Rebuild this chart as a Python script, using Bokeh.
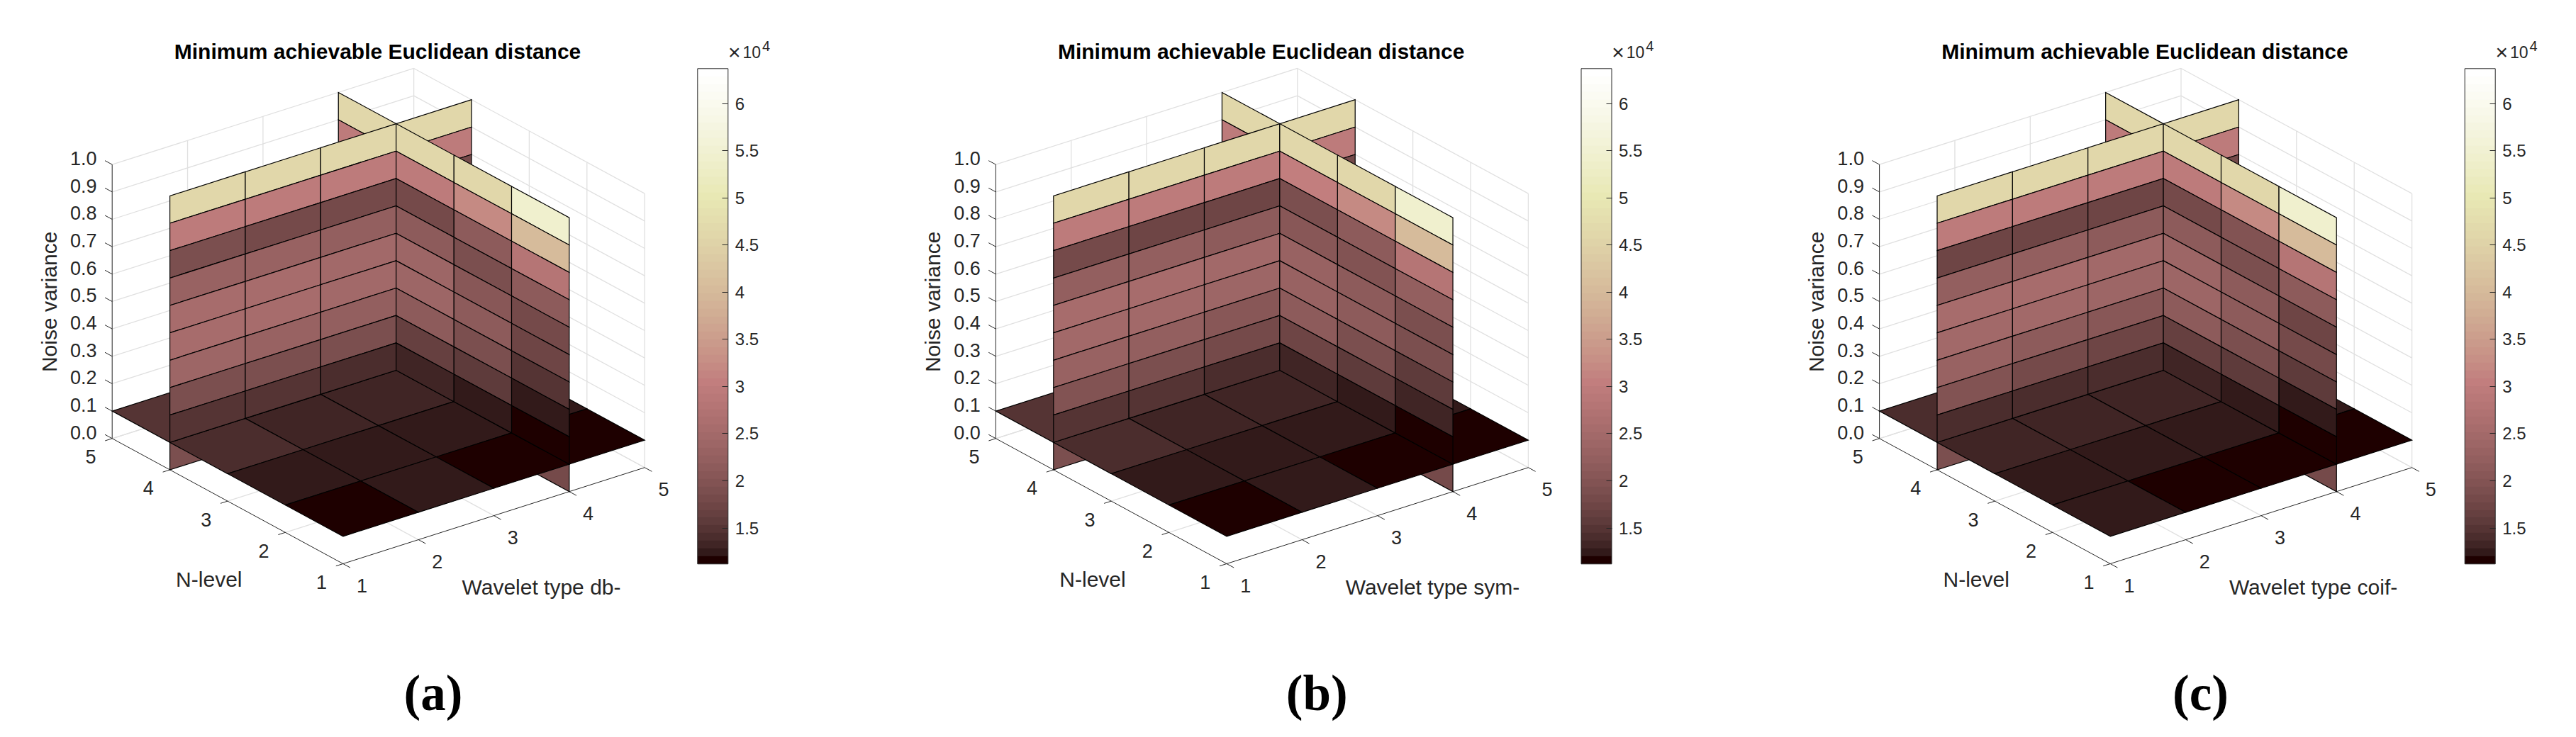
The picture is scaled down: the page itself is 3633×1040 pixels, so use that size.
import numpy as np
from bokeh.plotting import figure
from bokeh.models import ColumnDataSource, LinearColorMapper, ColorBar, FixedTicker
from bokeh.core.properties import value
from bokeh.embed import file_html
from bokeh.resources import INLINE

# ---------- data (values in units of 10^4) ----------
wavelet_ticks = [1, 2, 3, 4, 5]
level_ticks = [1, 2, 3, 4, 5]
noise_ticks = [0.0, 0.1, 0.2, 0.3, 0.4, 0.5, 0.6, 0.7, 0.8, 0.9, 1.0]
noise_labels = ["0.0", "0.1", "0.2", "0.3", "0.4", "0.5", "0.6", "0.7", "0.8", "0.9", "1.0"]
cbar_ticks = [1.5, 2, 2.5, 3, 3.5, 4, 4.5, 5, 5.5, 6]
cbar_labels = ["1.5", "2", "2.5", "3", "3.5", "4", "4.5", "5", "5.5", "6"]
cmin, cmax = 1.119, 6.37
title_text = "Minimum achievable Euclidean distance"
xlabels = ["Wavelet type db-", "Wavelet type sym-", "Wavelet type coif-"]
captions = ["(a)", "(b)", "(c)"]

# floor slice at noise 0.1: rows level 1-2 .. 4-5, columns wavelet 1-2 .. 4-5
a_floor = [[1.15, 1.24, 1.15, 1.15], [1.24, 1.24, 1.24, 1.24], [1.40, 1.33, 1.33, 1.33], [1.49, 1.49, 1.44, 1.34]]
b_floor = [[1.15, 1.24, 1.15, 1.15], [1.24, 1.24, 1.24, 1.24], [1.40, 1.33, 1.33, 1.33], [1.49, 1.49, 1.44, 1.34]]
c_floor = [[1.24, 1.15, 1.15, 1.15], [1.24, 1.24, 1.24, 1.24], [1.33, 1.33, 1.33, 1.33], [1.41, 1.41, 1.36, 1.31]]

# slice at level 4: rows noise 0.9-1.0 down to 0.0-0.1, columns wavelet 1-2 .. 4-5
a_level4 = [[4.57, 4.57, 4.57, 4.57], [2.96, 2.96, 2.96, 2.96], [1.86, 1.80, 1.78, 1.84],
            [2.28, 2.28, 2.22, 2.14], [2.57, 2.57, 2.49, 2.34], [2.57, 2.57, 2.44, 2.34],
            [2.37, 2.34, 2.24, 2.14], [1.93, 1.90, 1.88, 1.74], [1.49, 1.49, 1.40, 1.34], [1.90, 1.84, 1.74, 1.64]]
b_level4 = [[4.57, 4.57, 4.57, 4.57], [2.96, 2.96, 2.96, 2.96], [1.78, 1.74, 1.74, 1.84],
            [2.24, 2.24, 2.14, 2.14], [2.54, 2.54, 2.44, 2.34], [2.49, 2.49, 2.39, 2.34],
            [2.34, 2.24, 2.09, 2.04], [1.96, 1.89, 1.79, 1.74], [1.49, 1.49, 1.37, 1.34], [1.90, 1.84, 1.74, 1.64]]
c_level4 = [[4.57, 4.57, 4.57, 4.57], [2.96, 2.96, 2.96, 2.96], [1.74, 1.74, 1.74, 1.84],
            [2.24, 2.24, 2.14, 2.14], [2.54, 2.54, 2.44, 2.34], [2.49, 2.49, 2.39, 2.34],
            [2.34, 2.14, 2.04, 2.04], [1.94, 1.78, 1.76, 1.74], [1.41, 1.41, 1.41, 1.34], [1.90, 1.84, 1.74, 1.64]]

# slice at wavelet 4: rows noise 0.9-1.0 down to 0.0-0.1, columns level 1-2 .. 4-5
a_wave4 = [[5.44, 4.57, 4.57, 4.57], [4.03, 3.21, 2.96, 2.96], [2.79, 2.12, 1.82, 1.82],
           [2.12, 1.93, 2.12, 2.04], [1.78, 2.04, 2.35, 2.24], [1.77, 2.12, 2.39, 2.24],
           [1.49, 1.93, 2.14, 2.04], [1.24, 1.61, 1.69, 1.64], [1.15, 1.24, 1.34, 1.34], [1.78, 1.74, 1.74, 1.74]]
b_wave4 = [[5.44, 4.57, 4.57, 4.57], [4.03, 3.21, 3.04, 2.96], [2.79, 2.16, 1.89, 1.82],
           [2.19, 1.99, 2.04, 2.04], [1.89, 2.16, 2.34, 2.24], [1.92, 2.16, 2.34, 2.24],
           [1.61, 1.92, 2.12, 2.04], [1.33, 1.61, 1.70, 1.64], [1.15, 1.24, 1.33, 1.34], [1.78, 1.74, 1.74, 1.74]]
c_wave4 = [[5.44, 4.57, 4.57, 4.57], [4.03, 3.21, 2.96, 2.96], [2.79, 1.96, 1.84, 1.82],
           [2.12, 1.90, 2.12, 2.04], [1.77, 2.12, 2.37, 2.24], [1.79, 2.12, 2.37, 2.24],
           [1.54, 1.90, 2.12, 2.04], [1.24, 1.61, 1.64, 1.64], [1.15, 1.24, 1.33, 1.34], [1.78, 1.74, 1.74, 1.74]]

floors = [a_floor, b_floor, c_floor]
level4 = [a_level4, b_level4, c_level4]
wave4 = [a_wave4, b_wave4, c_wave4]

# ---------- colormap (pink, 64 levels) ----------
def pink(m=64):
    n = int(3 / 8 * m)
    out = []
    for i in range(m):
        gr = i / (m - 1)
        r = min(1.0, (i + 1) / n)
        g = 0.0 if i < n else min(1.0, (i + 1 - n) / n)
        b = 0.0 if i < 2 * n else (i + 1 - 2 * n) / (m - 2 * n)
        c = [np.sqrt((2 * gr + h) / 3) for h in (r, g, b)]
        out.append("#%02x%02x%02x" % tuple(int(round(255 * v)) for v in c))
    return out

palette = pink(64)
mapper = LinearColorMapper(palette=palette, low=cmin, high=cmax)

# ---------- page geometry ----------
W, H = 3617, 1024
p = figure(width=W, height=H, x_range=(0, W), y_range=(H, 0), output_backend="svg",
           toolbar_location=None, min_border=0, outline_line_color=None)
p.axis.visible = False
p.xgrid.visible = False
p.ygrid.visible = False

PANEL_DX = 1246.2
TXT = "#262626"
FONT = value("Liberation Sans")

def proj(w, n, z, k):
    return (483.3 + k * PANEL_DX + (w - 1) * 106.35 - (n - 1) * 81.4,
            795.0 - (w - 1) * 33.93 - (n - 1) * 44.18 - z * 386.6)

def quad(pts, k):
    xy = [proj(*q, k) for q in pts]
    return [c[0] for c in xy], [c[1] for c in xy]

def add_patches(polys):
    src = ColumnDataSource(dict(xs=[q[0] for q in polys], ys=[q[1] for q in polys], v=[q[2] for q in polys]))
    p.patches("xs", "ys", source=src, fill_color={"field": "v", "transform": mapper},
              line_color="black", line_width=1.2, line_join="miter")

def add_lines(segs, color, lw):
    p.multi_line([s[0] for s in segs], [s[1] for s in segs], line_color=color, line_width=lw)

def seg(a, b, k):
    return quad([a, b], k)

def add_text(xs, ys, texts, size, angle=0.0, color=TXT, align="left"):
    src = ColumnDataSource(dict(x=xs, y=ys, t=texts))
    p.text("x", "y", text="t", source=src, text_font=FONT, text_font_size=size,
           text_color=color, text_baseline="middle", text_align=align, angle=angle)

for k in range(3):
    # ---- back planes
    grid = []
    for z in noise_ticks:
        grid.append(seg((1, 5, z), (5, 5, z), k))
        grid.append(seg((5, 1, z), (5, 5, z), k))
    for w in wavelet_ticks[1:]:
        grid.append(seg((w, 5, 0), (w, 5, 1), k))
        grid.append(seg((w, 1, 0), (w, 5, 0), k))
    for n in level_ticks[:-1]:
        grid.append(seg((5, n, 0), (5, n, 1), k))
    for n in level_ticks[1:]:
        grid.append(seg((1, n, 0), (5, n, 0), k))
    add_lines(grid, "#e0e0e0", 1.3)

    # ---- axes and ticks
    ax = [seg((1, 5, 0), (1, 5, 1), k), seg((1, 1, 0), (1, 5, 0), k), seg((1, 1, 0), (5, 1, 0), k)]
    for z in noise_ticks:
        ax.append(seg((1, 5, z), (1, 5.125, z), k))
    for n in level_ticks:
        ax.append(seg((1, n, 0), (0.906, n, 0), k))
    for w in wavelet_ticks:
        ax.append(seg((w, 1, 0), (w, 0.875, 0), k))
    add_lines(ax, TXT, 1.0)

    fl, l4, w4 = floors[k], level4[k], wave4[k]
    lo = []
    for i in range(4):
        lo.append((*quad([(i + 1, 4, 0), (i + 2, 4, 0), (i + 2, 4, .1), (i + 1, 4, .1)], k), l4[9][i]))
    for j in range(4):
        lo.append((*quad([(4, j + 1, 0), (4, j + 2, 0), (4, j + 2, .1), (4, j + 1, .1)], k), w4[9][j]))
    add_patches(lo)

    flo = []
    for j in range(3, -1, -1):
        for i in range(3, -1, -1):
            flo.append((*quad([(i + 1, j + 1, .1), (i + 2, j + 1, .1), (i + 2, j + 2, .1), (i + 1, j + 2, .1)], k), fl[j][i]))
    add_patches(flo)

    back, front = [], []
    for r in range(9):
        zhi = noise_ticks[10 - r]
        zlo = noise_ticks[9 - r]
        for i in range(4):
            q = (*quad([(i + 1, 4, zlo), (i + 2, 4, zlo), (i + 2, 4, zhi), (i + 1, 4, zhi)], k), l4[r][i])
            (back if i == 3 else front).append(q)
        for j in range(4):
            q = (*quad([(4, j + 1, zlo), (4, j + 2, zlo), (4, j + 2, zhi), (4, j + 1, zhi)], k), w4[r][j])
            (back if j == 3 else front).append(q)
    add_patches(back)
    add_patches(front)

    # ---- tick labels
    zxy = [proj(1, 5, z, k) for z in noise_ticks]
    add_text([c[0] - 21.7 for c in zxy], [c[1] - 8.6 for c in zxy], noise_labels, "27px", align="right")
    nxy = [proj(1, n, 0, k) for n in level_ticks]
    add_text([c[0] - 30.3 for c in nxy], [c[1] + 26 for c in nxy], [str(n) for n in level_ticks], "27px", align="center")
    wxy = [proj(w, 1, 0, k) for w in wavelet_ticks]
    add_text([c[0] + 26.7 for c in wxy], [c[1] + 30.5 for c in wxy], [str(w) for w in wavelet_ticks], "27px", align="center")

    # ---- axis titles, title, caption
    ox = k * PANEL_DX
    add_text([69 + ox], [425.4], ["Noise variance"], "30px", align="center", angle=np.pi / 2)
    add_text([294.3 + ox], [817.3], ["N-level"], "30px", align="center")
    add_text([651 + ox], [828.3], [xlabels[k]], "30px", align="left")
    src = ColumnDataSource(dict(x=[532 + ox], y=[72], t=[title_text]))
    p.text("x", "y", text="t", source=src, text_font=FONT, text_font_style="bold", text_font_size="30px",
           text_color="black", text_align="center", text_baseline="middle")
    src = ColumnDataSource(dict(x=[610.5 + ox], y=[977], t=[captions[k]]))
    p.text("x", "y", text="t", source=src, text_font=value("Liberation Serif"), text_font_style="bold",
           text_font_size="71px", text_color="black", text_align="center", text_baseline="middle")

    # ---- colour bar
    cb = ColorBar(color_mapper=mapper, location=(983.3 + ox, H - 795.3), width=43, height=699,
                  padding=0, ticker=FixedTicker(ticks=cbar_ticks),
                  major_label_overrides={t: l for t, l in zip(cbar_ticks, cbar_labels)},
                  major_label_text_font="Liberation Sans", major_label_text_font_size="24px",
                  major_label_text_color=TXT, major_tick_in=8, major_tick_out=0,
                  major_tick_line_color=TXT, minor_tick_line_color=None, bar_line_color=TXT, bar_line_width=1,
                  label_standoff=10, background_fill_alpha=0, border_line_color=None)
    p.add_layout(cb)
    add_text([1026.5 + ox], [73], ["\u00d7"], "30px")
    add_text([1047 + ox], [73], ["10"], "23px")
    add_text([1074.5 + ox], [64], ["4"], "20px")

open("out.html", "w").write(file_html(p, INLINE))
